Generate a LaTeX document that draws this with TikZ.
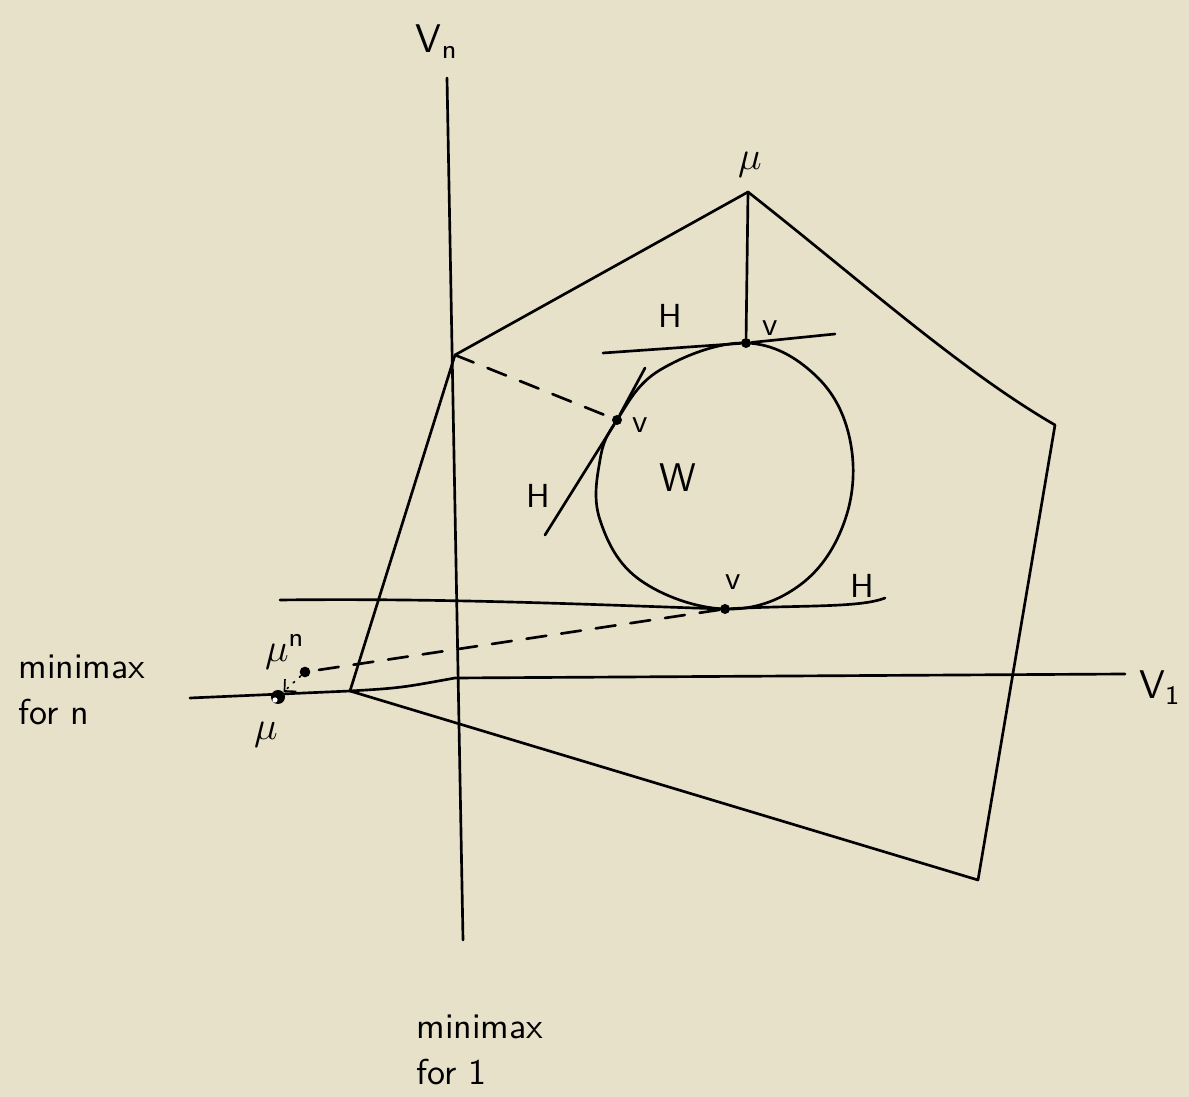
\documentclass[tikz,border=0pt]{standalone}
\usepackage{amsmath}
\usetikzlibrary{arrows.meta,calc,positioning}
\definecolor{paper}{RGB}{230,225,200}
\tikzset{pen/.style={line width=0.8pt,line cap=round,line join=round},
  dashline/.style={pen,dash pattern=on 6pt off 4.5pt},
  lbl/.style={font=\sffamily,inner sep=1pt},
  dot/.style={circle,fill,inner sep=0pt,minimum size=3pt},
  odot/.style={circle,fill,inner sep=0pt,minimum size=4.2pt}}

\begin{document}
\begin{tikzpicture}[x=0.3pt,y=-0.3pt]
\fill[paper] (0,0) rectangle (1189,1097);
\useasboundingbox (0,0) rectangle (1189,1097);
% axes
\coordinate (vtop) at (447,78);
\coordinate (vbot) at (463,940);
\coordinate (hl) at (190,698);
\coordinate (A) at (350,691);
\coordinate (hmid) at (455,678);
\coordinate (hr) at (1125,674);
\draw[pen] (vtop) -- (vbot);
\draw[pen] (hl) -- (A) .. controls (400,688) .. (hmid) -- (hr);
% pentagon
\coordinate (B) at (455,355);
\coordinate (C) at (748,192);
\coordinate (D) at (1055,425);
\coordinate (E) at (978,880);
\draw[pen] (A) -- (B) -- (C) .. controls (860,280) and (960,370) .. (D) -- (E) -- (A);
% set W
\node[dot] (vtop1) at (746,343) {};
\node[dot] (vleft) at (617,420) {};
\node[dot] (vbot1) at (725,609) {};
\draw[pen] plot[smooth cycle,tension=0.65] coordinates {(746,343) (815,375) (850,440) (845,520) (800,585) (725,609) (640,580) (600,520) (600,460) (617,420) (660,370)};
% tangents
\draw[pen] (603,353) -- (vtop1) -- (835,334);
\draw[pen] (545,535) -- (vleft) -- (645,368);
\draw[pen] (280,600) .. controls (450,598) and (600,605) .. (vbot1) .. controls (800,605) and (860,608) .. (885,598);
\draw[pen] (C) -- (vtop1);
% dashed projections
\node[dot,minimum size=3.2pt] (mun) at (305,672) {};
\node[odot] (mu) at (278,697) {};
\fill[white] (275,700) circle (2.6);
\draw[dashline] (B) -- (vleft);
\draw[dashline] (vbot1) -- (mun);
\draw[pen,line width=0.5pt,dotted,-{Straight Barb[length=2.5pt]}] (mun) -- (mu);
% labels
\node[lbl,font=\sffamily\large] (lVn) at (437,42) {V$_{\text{n}}$};
\node[lbl,font=\sffamily\large] (lV1) at (1160,688) {V$_{\text{1}}$};
\node[lbl,font=\large] (lmutop) at (750,165) {$\mu$};
\node[lbl] (lH1) at (670,316) {H};
\node[lbl] (lv1) at (770,328) {v};
\node[lbl] (lv2) at (640,425) {v};
\node[lbl] (lH2) at (538,496) {H};
\node[lbl,font=\sffamily\large] (lW) at (678,478) {W};
\node[lbl] (lv3) at (733,582) {v};
\node[lbl] (lH3) at (862,586) {H};
\node[lbl,font=\large] (lmun) at (285,652) {$\mu^{\textsf{n}}$};
\node[lbl,font=\large] (lmu) at (266,735) {$\mu$};
\node[lbl,font=\sffamily\fontsize{10.8}{14}\selectfont,align=left] (lminn) at (82,690) {minimax\\for n};
\node[lbl,font=\sffamily\fontsize{10.8}{14}\selectfont,align=left] (lmin1) at (480,1050) {minimax\\for 1};
\end{tikzpicture}
\end{document}
